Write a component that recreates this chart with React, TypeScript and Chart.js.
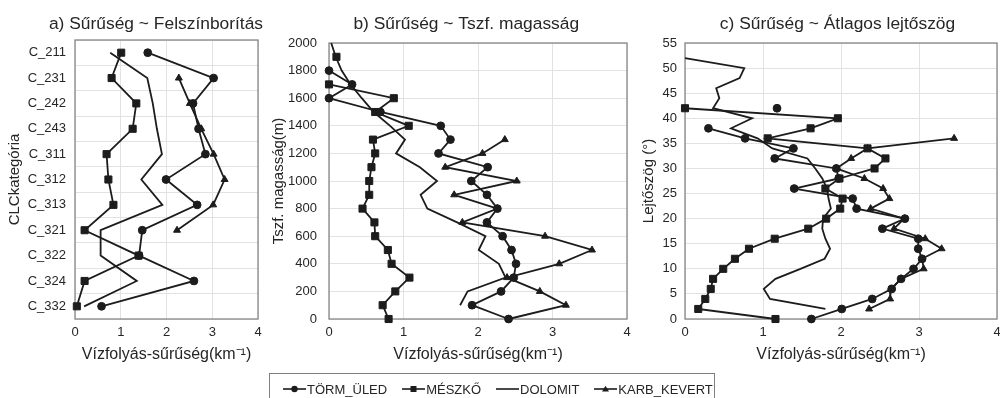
import React, { useEffect, useRef } from "react";
import { Chart, registerables } from "chart.js";

Chart.register(...registerables);

// ---------- a) density by land cover class ----------
const landCoverClasses = ["C_211", "C_231", "C_242", "C_243", "C_311", "C_312", "C_313", "C_321", "C_322", "C_324", "C_332"];
const coverTorm = [1.59, 3.03, 2.58, 2.7, 2.85, 1.99, 2.67, 1.47, 1.4, 2.6, 0.58];
const coverMeszko = [1.01, 0.8, 1.34, 1.26, 0.69, 0.73, 0.84, 0.21, 1.39, 0.21, 0.04];
const coverDolomit = [0.77, 1.58, 1.7, 1.79, 1.9, 1.45, 1.91, 0.56, 0.56, 1.35, 0.2];
const coverKarb = [null, 2.27, 2.51, 2.76, 3.03, 3.27, 3.02, 2.23, null, null, null];

// ---------- b) density by elevation (m) ----------
const elevations = [2000, 1900, 1800, 1700, 1600, 1500, 1400, 1300, 1200, 1100, 1000, 900, 800, 700, 600, 500, 400, 300, 200, 100, 0];
const elevTorm = [null, null, 0.0, 0.31, 0.0, 0.69, 1.5, 1.63, 1.47, 2.13, 1.91, 2.12, 2.26, 2.12, 2.33, 2.45, 2.51, 2.48, 2.31, 1.92, 2.41];
const elevMeszko = [null, 0.1, null, 0.0, 0.87, 0.62, 1.07, 0.59, 0.62, 0.57, 0.54, 0.54, 0.45, 0.61, 0.62, 0.79, 0.84, 1.08, 0.89, 0.72, 0.8];
const elevDolomit = [0.03, 0.09, 0.17, 0.29, 0.44, 0.6, 0.82, 1.02, 0.9, 1.22, 1.45, 1.23, 1.32, 1.72, 2.1, 2.01, 2.28, 2.37, 1.86, 1.76, null];
const elevKarb = [null, null, null, null, null, null, null, 2.36, 2.06, 1.56, 2.52, 1.68, 2.26, 1.79, 2.9, 3.53, 3.09, 2.39, 2.83, 3.18, 2.41];

// ---------- c) density by mean slope (degrees) ----------
const slopes = [52, 50, 48, 46, 44, 42, 40, 38, 36, 34, 32, 30, 28, 26, 24, 22, 20, 18, 16, 14, 12, 10, 8, 6, 4, 2, 0];
const slopeTorm = [null, null, null, null, null, 1.18, null, 0.3, 0.77, 1.39, 1.15, 1.94, 1.97, 1.4, 2.15, 2.2, 2.82, 2.53, 2.99, 2.99, 3.04, 2.93, 2.77, 2.65, 2.4, 2.01, 1.62];
const slopeMeszko = [null, null, null, null, null, 0.0, 1.96, 1.61, 1.06, 2.34, 2.57, 2.43, 1.98, 1.8, 2.02, 1.99, 1.81, 1.58, 1.15, 0.82, 0.64, 0.49, 0.36, 0.33, 0.26, 0.17, 1.16];
const slopeDolomit = [0.0, 0.76, 0.7, 0.4, 0.44, 0.36, 0.86, 0.59, 0.93, 1.12, 1.57, 1.67, 1.76, 1.82, 1.84, 1.87, 1.77, 1.76, 1.8, 1.86, 1.79, 1.48, 1.16, 1.01, 1.09, 1.8, null];
const slopeKarb = [null, null, null, null, null, null, null, null, 3.45, 2.34, 2.13, 1.94, 2.3, 2.54, 2.62, 2.38, 2.81, 2.68, 3.08, 3.29, 3.04, 3.06, 2.77, 2.64, 2.63, 2.36, null];

const seriesNames = ["TÖRM_ÜLED", "MÉSZKŐ", "DOLOMIT", "KARB_KEVERT"];

// ---------- styling ----------
const FONT = '"Liberation Sans", Arial, Helvetica, sans-serif';
const INK = "#1c1c1c";
const TEXT = "#262626";
const GRID = "#e2e2e2";
const FRAME = "#878787";

const markerStyles = [
  { pointStyle: "circle", pointRadius: 3.9 },
  { pointStyle: "rect", pointRadius: 5 },
  { pointStyle: "circle", pointRadius: 0 },
  { pointStyle: "triangle", pointRadius: 4 },
];

function makeDataset(index: number, data: any[]) {
  return {
    label: seriesNames[index],
    data,
    borderColor: INK,
    backgroundColor: INK,
    borderWidth: 1.8,
    pointBackgroundColor: INK,
    pointBorderColor: INK,
    pointBorderWidth: 1,
    pointHoverRadius: 0,
    showLine: true,
    spanGaps: false,
    tension: 0,
    clip: false,
    ...markerStyles[index],
  };
}

const toPoints = (levels: number[], values: (number | null)[]) =>
  levels.map((y, i) => ({ x: values[i], y }));

// Frame around the plotting area
const framePlugin = {
  id: "plotFrame",
  beforeDatasetsDraw(chart: any) {
    const { ctx, chartArea: a } = chart;
    ctx.save();
    ctx.strokeStyle = FRAME;
    ctx.lineWidth = 1.3;
    ctx.strokeRect(a.left, a.top, a.right - a.left, a.bottom - a.top);
    ctx.restore();
  },
};

// Panel heading
const panelTitlePlugin = {
  id: "panelTitle",
  afterDraw(chart: any, _args: any, opts: any) {
    const { ctx } = chart;
    ctx.save();
    ctx.font = `17.4px ${FONT}`;
    ctx.fillStyle = TEXT;
    ctx.textAlign = "center";
    ctx.textBaseline = "middle";
    ctx.fillText(opts.text, opts.x, opts.y);
    ctx.restore();
  },
};

function densityAxis() {
  return {
    type: "linear",
    position: "bottom",
    min: 0,
    max: 4,
    ticks: { stepSize: 1, padding: 6, color: TEXT, font: { family: FONT, size: 13 } },
    grid: { color: GRID, drawTicks: false, lineWidth: 1 },
    border: { display: false },
    title: {
      display: true,
      text: "Vízfolyás-sűrűség(km⁻¹)",
      color: TEXT,
      font: { family: FONT, size: 16 },
      padding: { top: 0, bottom: 6 },
    },
    afterFit: (s: any) => {
      s.height = 51;
      s.paddingLeft = 0;
      s.paddingRight = 0;
    },
  };
}

function sideAxis(base: any, title: string, titlePad: number, labelPad: number, width: number) {
  return {
    position: "left",
    ...base,
    ticks: { ...(base.ticks || {}), padding: labelPad, color: TEXT, font: { family: FONT, size: 13 } },
    grid: { ...(base.grid || {}), color: GRID, drawTicks: false, lineWidth: 1 },
    border: { display: false },
    title: {
      display: true,
      text: title,
      color: TEXT,
      font: { family: FONT, size: 15 },
      padding: { top: titlePad, bottom: 0 },
    },
    afterFit: (s: any) => {
      s.width = width;
    },
  };
}

function baseOptions(title: string, titleX: number, padTop: number, padRight: number, scales: any) {
  return {
    animation: false,
    responsive: false,
    devicePixelRatio: 1,
    events: [],
    layout: { padding: { left: 0, right: padRight, top: padTop, bottom: 0 } },
    plugins: {
      legend: { display: false },
      tooltip: { enabled: false },
      panelTitle: { text: title, x: titleX, y: 24.5 },
    },
    scales,
  };
}

function LegendGlyph({ kind }: { kind: string }) {
  return (
    <svg width={23} height={10} style={{ display: "block" }}>
      <line x1={0} y1={5} x2={23} y2={5} stroke={INK} strokeWidth={1.6} />
      {kind === "circle" && <circle cx={11.5} cy={5} r={3.2} fill={INK} />}
      {kind === "rect" && <rect x={8.5} y={2} width={6} height={6} fill={INK} />}
      {kind === "triangle" && <polygon points="11.5,1.8 15,7.6 8,7.6" fill={INK} />}
    </svg>
  );
}

const legendKinds = ["circle", "rect", "none", "triangle"];

export default function App() {
  const refA = useRef<HTMLCanvasElement>(null);
  const refB = useRef<HTMLCanvasElement>(null);
  const refC = useRef<HTMLCanvasElement>(null);

  useEffect(() => {
    const charts: Chart[] = [];

    charts.push(
      new Chart(refA.current as HTMLCanvasElement, {
        type: "line",
        data: {
          labels: landCoverClasses,
          datasets: [
            makeDataset(0, coverTorm),
            makeDataset(1, coverMeszko),
            makeDataset(2, coverDolomit),
            makeDataset(3, coverKarb),
          ],
        } as any,
        options: {
          indexAxis: "y",
          ...baseOptions("a) Sűrűség ~ Felszínborítás", 156, 40, 12, {
            x: densityAxis(),
            y: sideAxis({ type: "category", offset: true, grid: { offset: true } }, "CLCkategória", 5.9, 9, 75),
          }),
        } as any,
        plugins: [framePlugin, panelTitlePlugin],
      })
    );

    charts.push(
      new Chart(refB.current as HTMLCanvasElement, {
        type: "scatter",
        data: {
          datasets: [
            makeDataset(0, toPoints(elevations, elevTorm)),
            makeDataset(1, toPoints(elevations, elevMeszko)),
            makeDataset(2, toPoints(elevations, elevDolomit)),
            makeDataset(3, toPoints(elevations, elevKarb)),
          ],
        } as any,
        options: baseOptions("b) Sűrűség ~ Tszf. magasság", 200.3, 43, 4, {
          x: densityAxis(),
          y: sideAxis(
            { type: "linear", min: 0, max: 2000, ticks: { stepSize: 200, format: { useGrouping: false } } },
            "Tszf. magasság(m)",
            3.9,
            12,
            63
          ),
        }) as any,
        plugins: [framePlugin, panelTitlePlugin],
      })
    );

    charts.push(
      new Chart(refC.current as HTMLCanvasElement, {
        type: "scatter",
        data: {
          datasets: [
            makeDataset(0, toPoints(slopes, slopeTorm)),
            makeDataset(1, toPoints(slopes, slopeMeszko)),
            makeDataset(2, toPoints(slopes, slopeDolomit)),
            makeDataset(3, toPoints(slopes, slopeKarb)),
          ],
        } as any,
        options: baseOptions("c) Sűrűség ~ Átlagos lejtőszög", 207.5, 43, 4, {
          x: densityAxis(),
          y: sideAxis({ type: "linear", min: 0, max: 55, ticks: { stepSize: 5 } }, "Lejtőszög (°)", 9.9, 8, 55),
        }) as any,
        plugins: [framePlugin, panelTitlePlugin],
      })
    );

    return () => charts.forEach((c) => c.destroy());
  }, []);

  return (
    <div
      style={{
        position: "fixed",
        left: 0,
        top: 0,
        width: 1000,
        height: 398,
        overflow: "hidden",
        background: "#ffffff",
        fontFamily: FONT,
      }}
    >
      <canvas ref={refA} width={270} height={370} style={{ position: "absolute", left: 0, top: 0, width: 270, height: 370 }} />
      <canvas ref={refB} width={367} height={370} style={{ position: "absolute", left: 266, top: 0, width: 367, height: 370 }} />
      <canvas ref={refC} width={373} height={370} style={{ position: "absolute", left: 630, top: 0, width: 373, height: 370 }} />
      <div
        style={{
          position: "absolute",
          left: 269,
          top: 373,
          width: 446,
          height: 40,
          border: "1px solid #808080",
          boxSizing: "border-box",
        }}
      >
        <div
          style={{
            position: "absolute",
            left: 13,
            top: 6,
            height: 18,
            display: "flex",
            alignItems: "center",
            gap: 15,
            fontSize: 13,
            color: TEXT,
            whiteSpace: "nowrap",
          }}
        >
          {seriesNames.map((name, i) => (
            <div key={name} style={{ display: "flex", alignItems: "center", gap: 1 }}>
              <LegendGlyph kind={legendKinds[i]} />
              <span>{name}</span>
            </div>
          ))}
        </div>
      </div>
    </div>
  );
}
